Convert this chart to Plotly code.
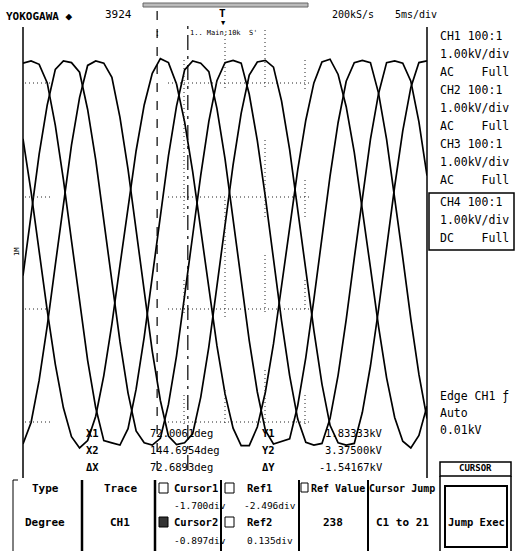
import plotly.graph_objects as go

t_ms = list(range(51))  # 0..50 ms (10 div x 5 ms/div)
ch1_kv = [3.36, 3.40, 3.34, 3.01, 2.26, 1.30, 0.22, -0.88, -1.90, -2.74, -3.32, -3.36, -3.40, -3.11, -2.41, -1.49, -0.42,
          0.68, 1.72, 2.60, 3.24, 3.40, 3.36, 3.21, 2.56, 1.67, 0.62, -0.49, -1.55, -2.46, -3.14, -3.38, -3.34, -3.29,
          -2.70, -1.85, -0.82, 0.29, 1.36, 2.31, 3.04, 3.37, 3.41, 3.37, 2.83, 2.01, 1.01, -0.08, -1.17, -2.15, -2.93]
ch2_kv = [-0.40, 0.71, 1.75, 2.62, 3.25, 3.40, 3.37, 3.20, 2.54, 1.65, 0.60, -0.51, -1.57, -2.48, -3.15, -3.36, -3.40,
          -3.28, -2.68, -1.82, -0.80, 0.31, 1.38, 2.33, 3.05, 3.37, 3.41, 3.36, 2.81, 1.99, 0.99, -0.11, -1.20, -2.17,
          -2.94, -3.35, -3.40, -3.37, -2.93, -2.16, -1.18, -0.09, 1.00, 2.01, 2.82, 3.37, 3.40, 3.36, 3.04, 2.32, 1.37]
ch3_kv = [-3.38, -3.00, -2.25, -1.29, -0.21, 0.89, 1.91, 2.75, 3.32, 3.40, 3.36, 3.11, 2.40, 1.48, 0.41, -0.70, -1.74,
          -2.61, -3.24, -3.39, -3.36, -3.20, -2.55, -1.66, -0.61, 0.50, 1.56, 2.47, 3.15, 3.38, 3.41, 3.29, 2.69, 1.83,
          0.81, -0.30, -1.37, -2.32, -3.05, -3.36, -3.40, -3.37, -2.82, -2.00, -1.00, 0.10, 1.18, 2.16, 2.93, 3.37, 3.40]
ch4_kv = [2.02, 1.08, 0.03, -1.02, -1.97, -2.74, -3.25, -3.45, -3.32, -2.89, -2.17, -1.26, -0.22, 0.83, 1.81, 2.62,
          3.18, 3.44, 3.37, 2.99, 2.32, 1.44, 0.41, -0.65, -1.64, -2.49, -3.10, -3.41, -3.41, -3.08, -2.46, -1.61, -0.61,
          0.46, 1.47, 2.35, 3.01, 3.38, 3.43, 3.16, 2.59, 1.78, 0.79, -0.26, -1.30, -2.21, -2.91, -3.33, -3.45, -3.23, -2.71]

channel_names = ["CH1", "CH2", "CH3", "CH4"]
channel_info = [("CH1 100:1", "1.00kV/div", "AC    Full"),
                ("CH2 100:1", "1.00kV/div", "AC    Full"),
                ("CH3 100:1", "1.00kV/div", "AC    Full"),
                ("CH4 100:1", "1.00kV/div", "DC    Full")]
cursor_rows = [("X1", "72.0061deg", "Y1", "1.83333kV"),
               ("X2", "144.6954deg", "Y2", "3.37500kV"),
               ("ΔX", "72.6893deg", "ΔY", "-1.54167kV")]
cursor1_ms = 16.6
cursor2_ms = 20.4

# ---------------- layout geometry ----------------
W, H = 515, 551
L, R, T, B = 23, 88, 27, 72
PW, PH = W - L - R, H - T - B
FONT = "DejaVu Sans Mono"


def px(x):
    return (x - L) / PW


def py(y):
    return (H - B - y) / PH


fig = go.Figure()
for name, vals in zip(channel_names, [ch1_kv, ch2_kv, ch3_kv, ch4_kv]):
    fig.add_trace(go.Scatter(x=t_ms, y=vals, mode="lines", name=name,
                             line=dict(color="black", width=1.7), hoverinfo="skip"))

shapes = []
annots = []


def line(x0, y0, x1, y1, w=1, dash="solid", color="black"):
    shapes.append(dict(type="line", xref="paper", yref="paper", x0=px(x0), y0=py(y0), x1=px(x1), y1=py(y1),
                       line=dict(color=color, width=w, dash=dash)))


def rect(x0, y0, x1, y1, w=1, fill="rgba(0,0,0,0)", color="black"):
    shapes.append(dict(type="rect", xref="paper", yref="paper", x0=px(x0), y0=py(y0), x1=px(x1), y1=py(y1),
                       line=dict(color=color, width=w), fillcolor=fill))


def text(x, y, s, size=11, anchor="left", bold=False, angle=0, color="black"):
    annots.append(dict(xref="paper", yref="paper", x=px(x), y=py(y), text=("<b>%s</b>" % s) if bold else s,
                       showarrow=False, xanchor=anchor, yanchor="middle", textangle=angle,
                       font=dict(family=FONT, size=size, color=color)))


# dotted grid fragments
GRID_DASH = "1px,3px"
for gy in [83, 197, 309, 422]:
    line(25, gy, 52, gy, w=1, dash=GRID_DASH, color="#222")
    line(168, gy, 310, gy, w=1, dash=GRID_DASH, color="#222")
vsegs = {184: [(60, 220), (280, 315), (395, 425)],
         225: [(35, 90), (200, 320), (390, 425)],
         265: [(30, 90), (140, 220), (255, 315), (370, 425)],
         305: [(60, 90), (180, 220), (280, 312), (395, 425)]}
for gx, segs in vsegs.items():
    for a, b in segs:
        line(gx, a, gx, b, w=1, dash=GRID_DASH, color="#222")

# cursor lines (placed on the time axis)
shapes.append(dict(type="line", xref="x", yref="paper", x0=cursor1_ms, x1=cursor1_ms, y0=py(470), y1=py(8),
                   line=dict(color="black", width=1.2, dash="dash")))
shapes.append(dict(type="line", xref="x", yref="paper", x0=cursor2_ms, x1=cursor2_ms, y0=py(470), y1=py(25),
                   line=dict(color="black", width=1.2, dash="longdashdot")))

# frame lines
line(23, 27, 23, 478, w=1.5)
line(427, 27, 427, 478, w=1.5)

# header
text(4, 16, "YOKOGAWA ◆", size=11, bold=True)
text(103, 15, "3924", size=11)
rect(143, 3, 308, 7, w=1, fill="#bbb", color="#666")
text(222, 13, "T", size=11, bold=True, anchor="center")
text(223, 23, "▼", size=7, anchor="center")
text(157, 33, ":", size=8, anchor="center")
text(188, 33, "1.. Main:10k  S'", size=7)
text(330, 15, "200kS/s", size=10)
text(393, 15, "5ms/div", size=10)
text(17, 252, "1M", size=7, anchor="center", angle=-90)

# right panel channel info
ys = [36, 54, 72, 90, 108, 126, 144, 162, 180, 202, 220, 238]
i = 0
for info in channel_info:
    for s in info:
        text(438, ys[i], s, size=11.5)
        i += 1
rect(429, 193, 514, 250, w=1.5)
text(438, 396, "Edge CH1 ƒ", size=11.5)
text(438, 413, "Auto", size=11.5)
text(438, 430, "0.01kV", size=11.5)

# cursor readouts
for (a, b, c, d), yy in zip(cursor_rows, [433, 450, 467]):
    text(84, yy, a, size=10.5, bold=True)
    text(148, yy, b, size=10.5)
    text(260, yy, c, size=10.5, bold=True)
    text(385, yy, d, size=10.5, anchor="right")

# bottom soft-key menu
line(13, 480, 13, 551, w=1)
line(13, 480, 18, 480, w=1)
line(82, 480, 82, 551, w=2.5)
line(155, 480, 155, 551, w=2.5)
line(221, 480, 221, 551, w=2)
line(299, 480, 299, 551, w=2)
line(368, 480, 368, 551, w=2)
text(45, 488, "Type", size=11, anchor="center", bold=True)
text(45, 522, "Degree", size=11, anchor="center", bold=True)
text(120, 488, "Trace", size=11, anchor="center", bold=True)
text(120, 522, "CH1", size=11, anchor="center", bold=True)
rect(159, 483, 168, 493, w=1)
rect(159, 517, 168, 527, w=1, fill="#333")
text(172, 488, "Cursor1", size=10.5, bold=True)
text(172, 505, "-1.700div", size=9.5)
text(172, 522, "Cursor2", size=10.5, bold=True)
text(172, 540, "-0.897div", size=9.5)
rect(225, 483, 234, 493, w=1)
rect(225, 517, 234, 527, w=1)
text(245, 488, "Ref1", size=10.5, bold=True)
text(242, 505, "-2.496div", size=9.5)
text(245, 522, "Ref2", size=10.5, bold=True)
text(245, 540, "0.135div", size=9.5)
rect(301, 483, 308, 492, w=1)
text(309, 488, "Ref Value", size=10, bold=True)
text(333, 522, "238", size=11, anchor="center", bold=True)
text(367, 488, "Cursor Jump", size=10, bold=True)
text(402, 522, "C1 to 21", size=11, anchor="center", bold=True)
rect(440, 462, 511, 476, w=1.5)
text(475, 468, "CURSOR", size=9, anchor="center", bold=True)
line(440, 476, 440, 551, w=1.5)
line(511, 476, 511, 551, w=1.5)
rect(445, 486, 507, 547, w=2)
text(476, 522, "Jump Exec", size=10.5, anchor="center", bold=True)

fig.update_layout(
    width=W, height=H, margin=dict(l=L, r=R, t=T, b=B),
    paper_bgcolor="white", plot_bgcolor="white", showlegend=False,
    xaxis=dict(range=[0, 50], visible=False, fixedrange=True),
    yaxis=dict(range=[-4, 4], visible=False, fixedrange=True),
    shapes=shapes, annotations=annots,
)

fig.write_html("out.html", config={"displayModeBar": False})
